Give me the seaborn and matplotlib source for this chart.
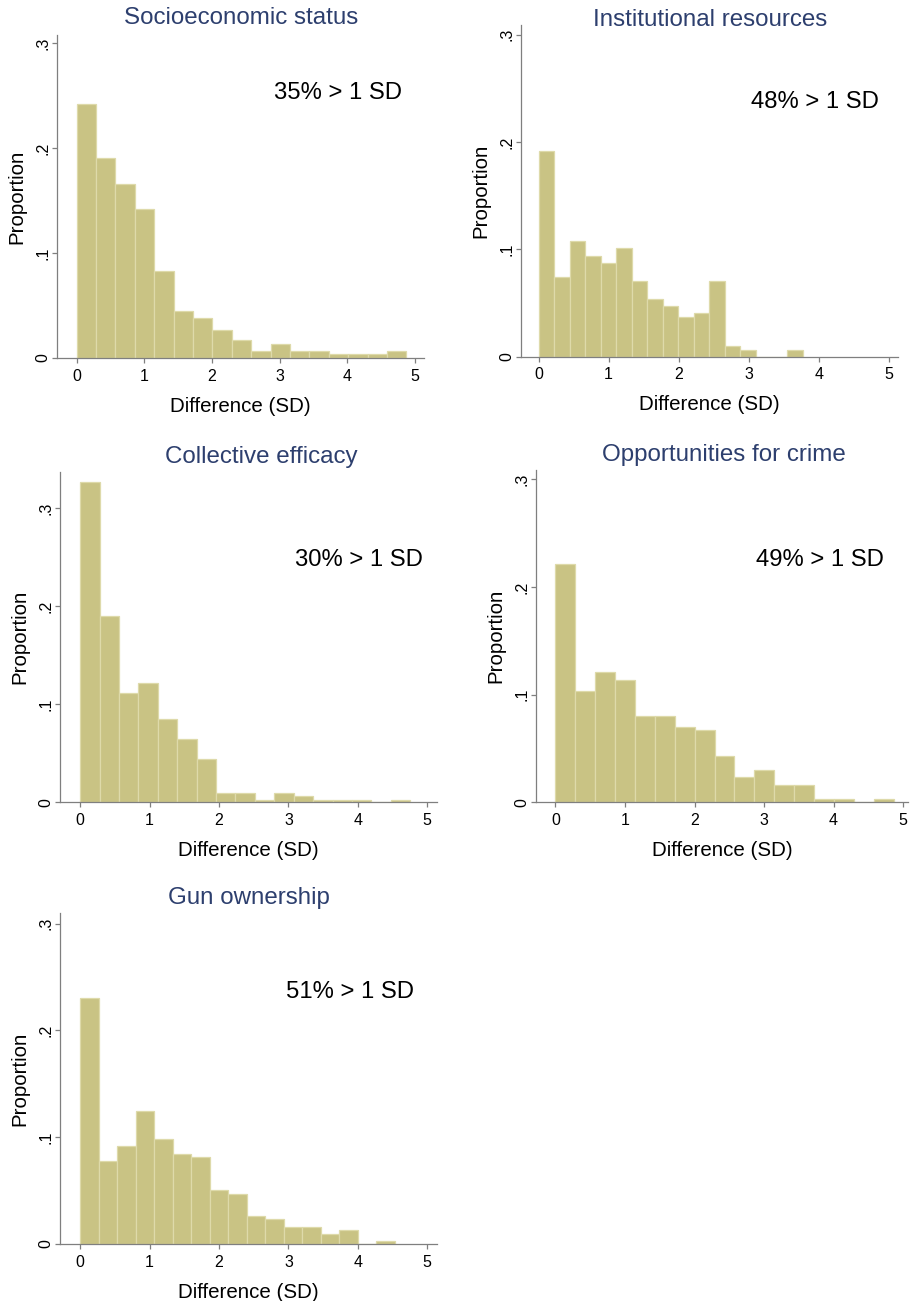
import numpy as np
import pandas as pd
import matplotlib
matplotlib.use("Agg")
import matplotlib.pyplot as plt
import seaborn as sns

# panel data (proportion per bin, bins start at 0)
titles = ["Socioeconomic status", "Institutional resources", "Collective efficacy",
          "Opportunities for crime", "Gun ownership"]
notes = ["35% > 1 SD", "48% > 1 SD", "30% > 1 SD", "49% > 1 SD", "51% > 1 SD"]
bin_widths = [0.2865, 0.2217, 0.2797, 0.286, 0.2665]

ses = [0.242, 0.190, 0.166, 0.1415, 0.0825, 0.045, 0.038, 0.027, 0.017,
       0.0067, 0.0135, 0.0067, 0.0067, 0.0034, 0.0034, 0.0034, 0.0067]
inst = [0.192, 0.0738, 0.108, 0.094, 0.0872, 0.1008, 0.0704, 0.0537, 0.0472,
        0.0366, 0.0403, 0.0704, 0.0099, 0.0065, 0.0, 0.0, 0.0065]
coll = [0.3264, 0.190, 0.1113, 0.1218, 0.0845, 0.0641, 0.0441, 0.0098, 0.0098,
        0.0027, 0.0098, 0.0061, 0.0027, 0.0027, 0.0027, 0.0, 0.0027]
opp = [0.221, 0.1037, 0.1207, 0.1139, 0.0802, 0.0802, 0.0703, 0.0669, 0.0433,
       0.0232, 0.030, 0.0161, 0.0161, 0.0031, 0.0031, 0.0, 0.0031]
gun = [0.2304, 0.0776, 0.0914, 0.125, 0.0979, 0.0842, 0.0814, 0.0502, 0.0471,
       0.0265, 0.0231, 0.0162, 0.0162, 0.0097, 0.0131, 0.0, 0.0031]
series = [ses, inst, coll, opp, gun]

note_x = [2.91, 3.03, 3.09, 2.88, 2.96]
note_y = [0.2526, 0.237, 0.2467, 0.225, 0.236]

yticks = [0, 0.1, 0.2, 0.3]
ytick_labels = ["0", ".1", ".2", ".3"]
xticks = [0, 1, 2, 3, 4, 5]

sns.set_style("white")
plt.rcParams['font.family'] = ['Liberation Sans', 'DejaVu Sans']

W, H = 914, 1301
fig = plt.figure(figsize=(W / 100, H / 100), dpi=100)

# axes boxes in pixels: left, right, top, bottom
boxes = [(57, 424, 35, 358), (521, 898, 25, 356.7), (60, 437, 471.7, 802.3),
         (536, 908, 470, 802.3), (60, 437, 913, 1244)]
xlims = [(-0.29, 5.13), (-0.25, 5.13), (-0.29, 5.14), (-0.28, 5.07), (-0.29, 5.14)]
ytops = [0.3076, 0.309, 0.337, 0.3086, 0.31]
title_pos = [(240.8, 18.5), (710, 20), (261.7, 456.7), (724.3, 455), (249, 898)]

bar_color = "#c9c384"
edge_color = "#dedaaa"
axis_grey = "#7f7f7f"
title_color = "#2d3f6e"

for i in range(5):
    l, r, t, b = boxes[i]
    ax = fig.add_axes([l / W, 1 - b / H, (r - l) / W, (b - t) / H])
    props = series[i]
    w = bin_widths[i]
    n = len(props)
    centers = [w * (k + 0.5) for k in range(n)]
    df = pd.DataFrame({"diff": centers, "prop": props})
    sns.histplot(data=df, x="diff", weights="prop", binwidth=w, binrange=(0, w * n),
                 stat="count", color=bar_color, edgecolor=edge_color, linewidth=0.9,
                 alpha=1, ax=ax)
    ax.set_xlim(*xlims[i])
    ax.set_ylim(0, ytops[i])
    ax.set_xticks(xticks)
    ax.set_xticklabels([str(v) for v in xticks], fontsize=11.5)
    ax.set_yticks(yticks)
    ax.set_yticklabels(ytick_labels, rotation=90, va="center", fontsize=11.5)
    ax.tick_params(axis="x", bottom=True, length=5 * 0.72, width=0.9, color=axis_grey,
                   labelcolor="black", pad=4.0, direction="out")
    ax.tick_params(axis="y", left=True, length=5 * 0.72, width=0.9, color=axis_grey,
                   labelcolor="black", pad=1.2, direction="out")
    for side in ["top", "right"]:
        ax.spines[side].set_visible(False)
    for side in ["left", "bottom"]:
        ax.spines[side].set_color(axis_grey)
        ax.spines[side].set_linewidth(0.9)
    ax.set_xlabel("Difference (SD)", fontsize=14.8, labelpad=9.5, color="black")
    ax.set_ylabel("Proportion", fontsize=14.8, labelpad=6.5, color="black")
    ax.text(note_x[i], note_y[i], notes[i], fontsize=17.2, ha="left", va="center", color="black")
    tx, ty = title_pos[i]
    fig.text(tx / W, 1 - ty / H, titles[i], fontsize=17.4, color=title_color,
             ha="center", va="center")

fig.savefig("out.png", dpi=100, facecolor="white")
